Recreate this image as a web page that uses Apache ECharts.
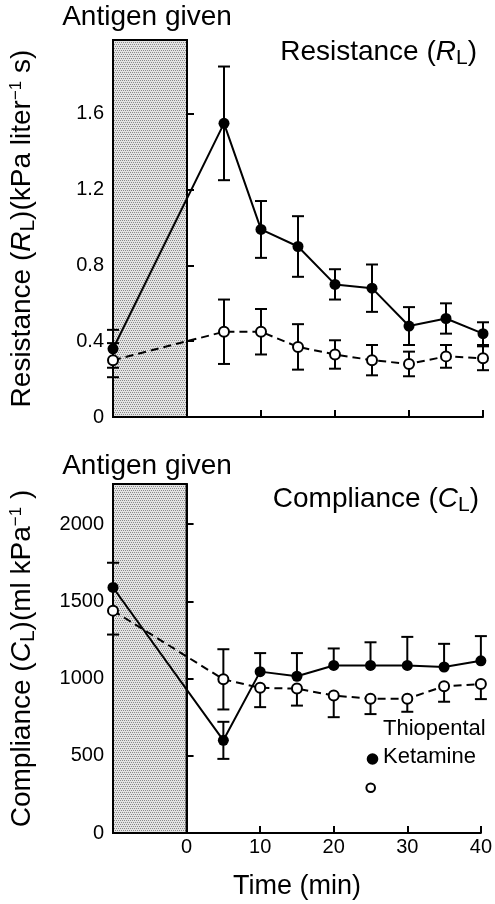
<!DOCTYPE html>
<html><head><meta charset="utf-8">
<script src="https://cdn.jsdelivr.net/npm/echarts@6/dist/echarts.min.js"></script>
<style>html,body{margin:0;padding:0;background:#fff}#c{width:495px;height:904px}</style>
</head><body><div id="c"></div>
<script>
// ---- data ----
const times = [-10, 5, 10, 15, 20, 25, 30, 35, 40];
const resFilled = [0.36, 1.55, 0.99, 0.90, 0.70, 0.68, 0.48, 0.52, 0.44];
const resFilledErr = [0.10, 0.30, 0.15, 0.16, 0.08, 0.125, 0.10, 0.08, 0.06];
const resOpen = [0.30, 0.45, 0.45, 0.37, 0.33, 0.30, 0.28, 0.32, 0.31];
const resOpenErr = [0.09, 0.17, 0.12, 0.12, 0.075, 0.08, 0.065, 0.06, 0.063];
const compFilled = [1590, 600, 1045, 1015, 1085, 1085, 1085, 1075, 1115];
const compFilledErrUp = [160, 120, 120, 150, 110, 150, 185, 150, 160];
const compFilledErrDown = [0, 120, 0, 0, 0, 0, 0, 0, 0];
const compOpen = [1440, 995, 940, 935, 890, 870, 870, 950, 965];
const compOpenErrUp = [0, 195, 0, 0, 0, 0, 0, 0, 0];
const compOpenErrDown = [155, 195, 125, 110, 140, 100, 85, 100, 98];
const antigenPeriod = [-10, 0];
const resTickLabels = ['0', '0.4', '0.8', '1.2', '1.6'];
const compTickLabels = ['0', '500', '1000', '1500', '2000'];
const xTickLabels = ['0', '10', '20', '30', '40'];

const FONT = '"Liberation Sans", Arial, Helvetica, sans-serif';

// stipple pattern for shaded box
const pc = document.createElement('canvas');
pc.width = 4; pc.height = 4;
const pctx = pc.getContext('2d');
pctx.fillStyle = '#e4e4e4'; pctx.fillRect(0, 0, 4, 4);
pctx.fillStyle = '#8a8a8a';
pctx.fillRect(0, 0, 1, 1); pctx.fillRect(2, 0, 1, 1);
pctx.fillRect(1, 2, 1, 1); pctx.fillRect(3, 2, 1, 1);
const stipple = { image: pc, repeat: 'repeat' };

function pairs(xs, ys) { return xs.map((x, i) => [x, ys[i]]); }
function errData(xs, ys, up, down) {
  return xs.map((x, i) => [x, ys[i] - down[i], ys[i] + up[i], up[i] > 0 ? 1 : 0, down[i] > 0 ? 1 : 0]);
}
function errSeries(axis, data) {
  return {
    type: 'custom', xAxisIndex: axis, yAxisIndex: axis, z: 1, clip: false,
    encode: { x: 0, y: [1, 2] },
    renderItem: function (params, api) {
      const x = api.value(0), lo = api.value(1), hi = api.value(2);
      const pL = api.coord([x, lo]), pH = api.coord([x, hi]);
      const st = { stroke: '#000', lineWidth: 2 };
      const ch = [{ type: 'line', shape: { x1: pL[0], y1: pL[1], x2: pH[0], y2: pH[1] }, style: st }];
      const w = 6;
      if (api.value(3)) ch.push({ type: 'line', shape: { x1: pH[0] - w, y1: pH[1], x2: pH[0] + w, y2: pH[1] }, style: st });
      if (api.value(4)) ch.push({ type: 'line', shape: { x1: pL[0] - w, y1: pL[1], x2: pL[0] + w, y2: pL[1] }, style: st });
      return { type: 'group', children: ch };
    },
    data: data
  };
}
function filledLine(axis, data, withArea) {
  const s = {
    type: 'line', xAxisIndex: axis, yAxisIndex: axis, z: 3, clip: false,
    data: data, symbol: 'circle', symbolSize: 11,
    itemStyle: { color: '#000', borderColor: '#000', borderWidth: 0 },
    lineStyle: { color: '#000', width: 2, type: 'solid' },
    emphasis: { disabled: true }
  };
  if (withArea) {
    s.markArea = {
      silent: true,
      itemStyle: { color: stipple, borderColor: '#000', borderWidth: 2 },
      data: [[{ xAxis: antigenPeriod[0] }, { xAxis: antigenPeriod[1] }]]
    };
  }
  return s;
}
function openLine(axis, data) {
  return {
    type: 'line', xAxisIndex: axis, yAxisIndex: axis, z: 4, clip: false,
    data: data, symbol: 'circle', symbolSize: 10,
    itemStyle: { color: '#fff', borderColor: '#000', borderWidth: 2 },
    lineStyle: { color: '#000', width: 2, type: [8, 5] },
    emphasis: { disabled: true }
  };
}

const nameRich = {
  i: { fontStyle: 'italic', fontSize: 28, fontFamily: FONT, color: '#000' },
  sub: { fontSize: 21, fontFamily: FONT, color: '#000', padding: [12, 0, 0, 0] },
  sup: { fontSize: 17, fontFamily: FONT, color: '#000', padding: [0, 0, 12, 0] }
};

function xAxisCfg(grid, showLabels) {
  return {
    type: 'value', gridIndex: grid, min: -10, max: 40, interval: 10,
    axisLine: { show: true, lineStyle: { color: '#000', width: 2 } },
    axisTick: { show: true, inside: true, length: 7, lineStyle: { color: '#000', width: 2 } },
    splitLine: { show: false },
    axisLabel: {
      show: showLabels, color: '#000', fontSize: 20, fontFamily: FONT, margin: 4,
      formatter: v => { const s = String(v); return xTickLabels.includes(s) ? s : ''; }
    },
    name: showLabels ? 'Time (min)' : '',
    nameLocation: 'middle', nameGap: 40,
    nameTextStyle: { color: '#000', fontSize: 27, fontFamily: FONT }
  };
}
function yAxisCfg(grid, max, interval, labels, fmt, name) {
  return {
    type: 'value', gridIndex: grid, min: 0, max: max, interval: interval, z: 10,
    axisLine: { show: true, lineStyle: { color: '#000', width: 2 } },
    axisTick: { show: true, inside: true, length: 7, lineStyle: { color: '#000', width: 2 } },
    splitLine: { show: false },
    axisLabel: {
      color: '#000', fontSize: 20, fontFamily: FONT, margin: 9, showMaxLabel: false,
      formatter: v => { const s = fmt(v); return labels.includes(s) ? s : ''; }
    },
    name: name, nameLocation: 'middle', nameRotate: 90, nameGap: 74,
    nameTextStyle: { color: '#000', fontSize: 28, fontFamily: FONT, rich: nameRich }
  };
}

const chart = echarts.init(document.getElementById('c'), null, { renderer: 'canvas' });
chart.setOption({
  animation: false,
  backgroundColor: '#fff',
  grid: [
    { left: 110, right: 12, top: 40, height: 377 },
    { left: 110, right: 12, top: 484, height: 349 }
  ],
  xAxis: [xAxisCfg(0, false), xAxisCfg(1, true)],
  yAxis: [
    yAxisCfg(0, 1.99, 0.4, resTickLabels, v => v === 0 ? '0' : (+v).toFixed(1),
      'Resistance ({i|R}{sub|L})(kPa liter{sup|−1} s)'),
    yAxisCfg(1, 2260, 500, compTickLabels, v => String(Math.round(v)),
      'Compliance ({i|C}{sub|L})(ml kPa{sup|−1} )')
  ],
  series: [
    filledLine(0, pairs(times, resFilled), true),
    openLine(0, pairs(times, resOpen)),
    errSeries(0, errData(times, resFilled, resFilledErr, resFilledErr)),
    errSeries(0, errData(times, resOpen, resOpenErr, resOpenErr)),
    filledLine(1, pairs(times, compFilled), true),
    openLine(1, pairs(times, compOpen)),
    errSeries(1, errData(times, compFilled, compFilledErrUp, compFilledErrDown)),
    errSeries(1, errData(times, compOpen, compOpenErrUp, compOpenErrDown))
  ],
  graphic: [
    { type: 'text', x: 147, y: 17, style: { text: 'Antigen given', fill: '#000', font: '28px ' + FONT, align: 'center', verticalAlign: 'middle' } },
    { type: 'text', x: 147, y: 466, style: { text: 'Antigen given', fill: '#000', font: '28px ' + FONT, align: 'center', verticalAlign: 'middle' } },
    { type: 'text', x: 477, y: 52, style: { text: 'Resistance ({i|R}{sub|L})', fill: '#000', font: '28px ' + FONT, align: 'right', verticalAlign: 'middle', rich: nameRich } },
    { type: 'text', x: 479, y: 499, style: { text: 'Compliance ({i|C}{sub|L})', fill: '#000', font: '28px ' + FONT, align: 'right', verticalAlign: 'middle', rich: nameRich } },
    { type: 'text', x: 383, y: 729, style: { text: 'Thiopental', fill: '#000', font: '22px ' + FONT, align: 'left', verticalAlign: 'middle' } },
    { type: 'circle', shape: { cx: 372.5, cy: 759, r: 5.8 }, style: { fill: '#000' } },
    { type: 'text', x: 383, y: 757, style: { text: 'Ketamine', fill: '#000', font: '22px ' + FONT, align: 'left', verticalAlign: 'middle' } },
    { type: 'circle', shape: { cx: 370.7, cy: 787.7, r: 4.3 }, style: { fill: '#fff', stroke: '#000', lineWidth: 2 } }
  ]
});
</script>
</body></html>
